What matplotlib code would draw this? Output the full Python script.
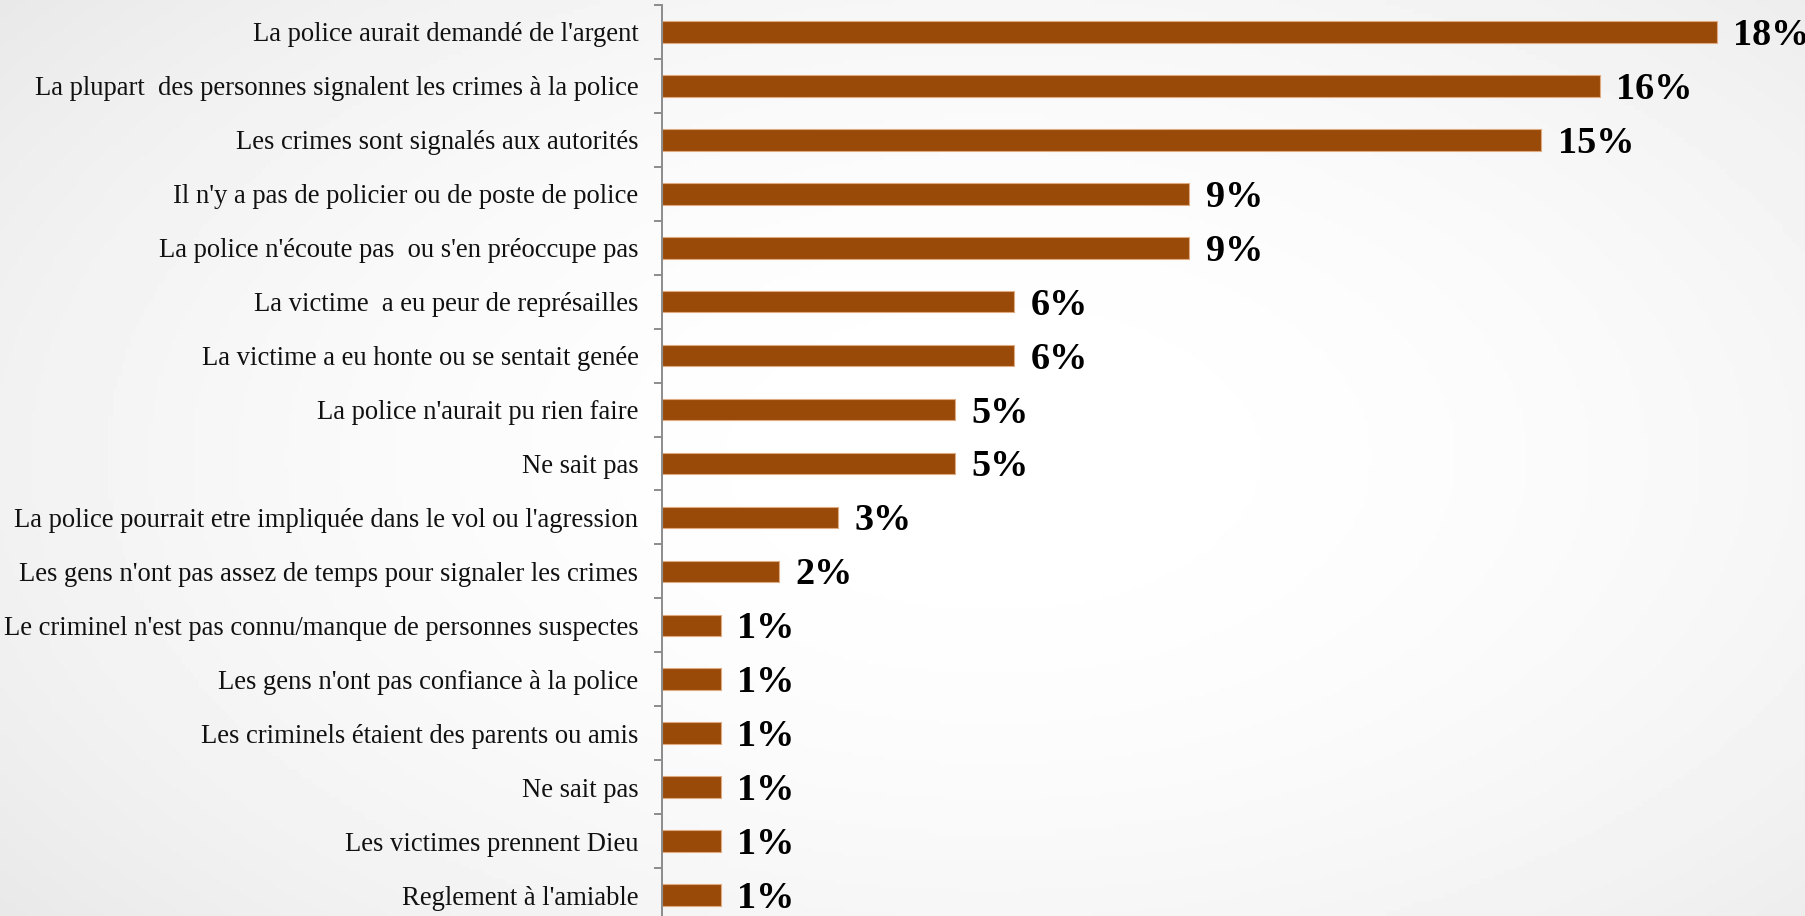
import numpy as np
import matplotlib
matplotlib.use("Agg")
import matplotlib.pyplot as plt

# catégories (de haut en bas) et pourcentages
labels = [
    "La police aurait demandé de l'argent",
    "La plupart  des personnes signalent les crimes à la police",
    "Les crimes sont signalés aux autorités",
    "Il n'y a pas de policier ou de poste de police",
    "La police n'écoute pas  ou s'en préoccupe pas",
    "La victime  a eu peur de représailles",
    "La victime a eu honte ou se sentait genée",
    "La police n'aurait pu rien faire",
    "Ne sait pas",
    "La police pourrait etre impliquée dans le vol ou l'agression",
    "Les gens n'ont pas assez de temps pour signaler les crimes",
    "Le criminel n'est pas connu/manque de personnes suspectes",
    "Les gens n'ont pas confiance à la police",
    "Les criminels étaient des parents ou amis",
    "Ne sait pas",
    "Les victimes prennent Dieu",
    "Reglement à l'amiable",
]
values = [18, 16, 15, 9, 9, 6, 6, 5, 5, 3, 2, 1, 1, 1, 1, 1, 1]

W, H = 1806, 916
fig = plt.figure(figsize=(W / 100, H / 100), dpi=100)

# fond en dégradé radial (blanc au centre, gris clair aux coins)
bg = fig.add_axes([0, 0, 1, 1], zorder=-10)
yy, xx = np.mgrid[0:1:200j, 0:1:400j]
r = np.sqrt(((xx - 0.55) / 0.75) ** 2 + ((yy - 0.5) / 0.85) ** 2)
shade = 1.0 - 0.10 * np.clip(r, 0, 1) ** 2
bg.imshow(shade, cmap="gray", vmin=0, vmax=1, aspect="auto", extent=[0, 1, 0, 1])
bg.axis("off")

# axe principal
ppu = 58.6  # pixels par %
left = 662 / W
top = 1 - 5 / H
n = len(labels)
step = 53.94
ax = fig.add_axes([left, top - n * step / H, 19 * ppu / W, n * step / H])
ax.set_facecolor("none")

y = np.arange(n)
bars = ax.barh(y, values, height=0.40, color="#994A08",
               edgecolor="#E0AA80", linewidth=0.8)
ax.set_xlim(0, 19)
ax.set_ylim(n - 0.5, -0.5)

ax.set_yticks(y)
ax.set_yticklabels(labels, family="Liberation Serif", fontsize=19.2, color="#111111")
ax.tick_params(axis="y", which="major", length=0, pad=17)
ax.set_yticks(np.arange(n + 1) - 0.5, minor=True)
ax.tick_params(axis="y", which="minor", length=6, width=1.4, color="#8C8C8C")
ax.set_xticks([])

for s in ["top", "right", "bottom"]:
    ax.spines[s].set_visible(False)
ax.spines["left"].set_color("#8C8C8C")
ax.spines["left"].set_linewidth(1.4)

for yi, v in zip(y, values):
    ax.annotate(f"{v}%", (v, yi), xytext=(12, -2.5), textcoords="offset points",
                va="center", ha="left", family="Liberation Serif",
                fontweight="bold", fontsize=27.5, color="black", clip_on=False)

fig.savefig("out.png", dpi=100)
